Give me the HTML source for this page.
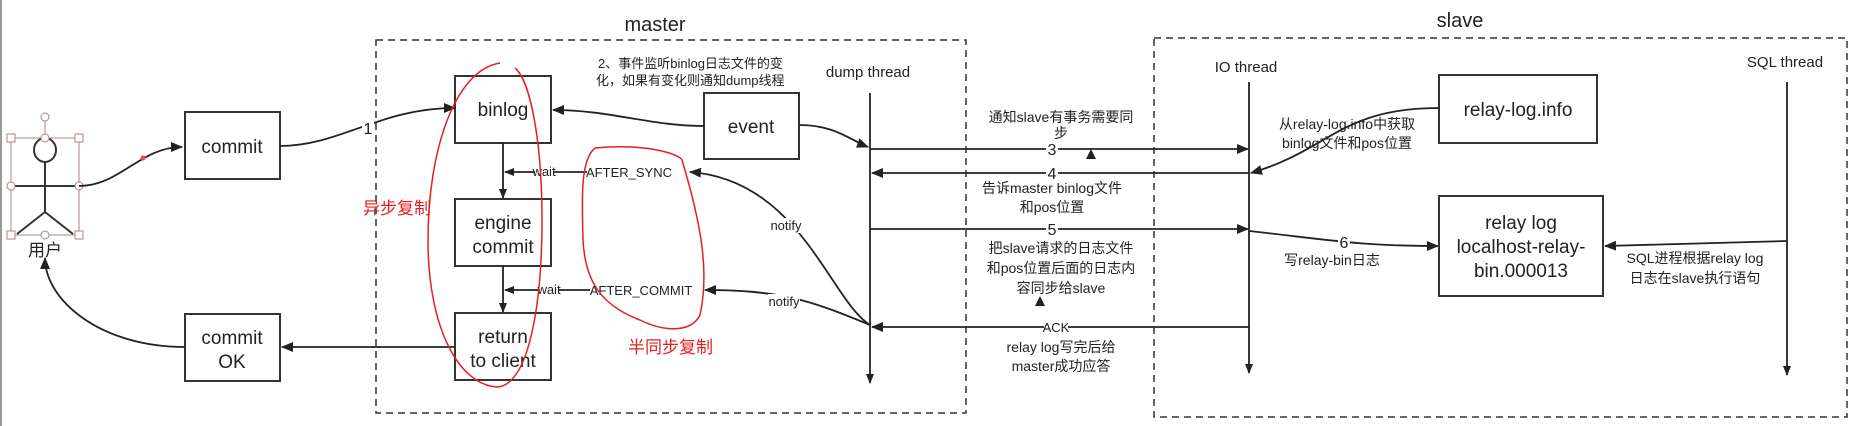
<!DOCTYPE html>
<html><head><meta charset="utf-8"><style>
html,body{margin:0;padding:0;background:#fff;}
svg{display:block;}
text{font-family:"Liberation Sans","Noto Sans CJK SC",sans-serif;fill:#222;}
</style></head><body>
<svg width="1866" height="426" viewBox="0 0 1866 426" xmlns="http://www.w3.org/2000/svg">
<defs>
<marker id="a" markerWidth="10" markerHeight="8" refX="9" refY="4" orient="auto" markerUnits="userSpaceOnUse"><path d="M0,0 L10,4 L0,8 z" fill="#222"/></marker>
<marker id="b" markerWidth="12" markerHeight="10" refX="11" refY="5" orient="auto" markerUnits="userSpaceOnUse"><path d="M0,0 L12,5 L0,10 z" fill="#222"/></marker>
</defs>
<rect x="0" y="0" width="2" height="426" fill="#999"/>
<rect x="376" y="40" width="590" height="373" fill="none" stroke="#333" stroke-width="1.5" stroke-dasharray="7,5"/>
<rect x="1154" y="38" width="693" height="379" fill="none" stroke="#333" stroke-width="1.5" stroke-dasharray="7,5"/>
<text x="655" y="31" font-size="20" text-anchor="middle">master</text>
<text x="1460" y="27" font-size="20" text-anchor="middle">slave</text>
<g stroke="#b08080" stroke-width="1" fill="#fff">
<rect x="11" y="138" width="68" height="97" fill="none"/>
<line x1="45" y1="117" x2="45" y2="138"/>
</g>
<g stroke="#333" stroke-width="2" fill="none">
<ellipse cx="45" cy="150" rx="11" ry="12"/>
<line x1="45" y1="162" x2="45" y2="212"/>
<line x1="11" y1="186" x2="79" y2="186"/>
<line x1="45" y1="212" x2="17" y2="234"/>
<line x1="45" y1="212" x2="73" y2="234"/>
</g>
<g stroke="#b08080" stroke-width="1" fill="#fff">
<circle cx="45" cy="117" r="4"/><circle cx="45" cy="138" r="4"/><circle cx="11" cy="186" r="4"/><circle cx="79" cy="186" r="4"/><circle cx="45" cy="235" r="4"/>
<rect x="7" y="134" width="8" height="8"/><rect x="75" y="134" width="8" height="8"/><rect x="7" y="231" width="8" height="8"/><rect x="75" y="231" width="8" height="8"/>
</g>
<text x="45" y="256" font-size="17" text-anchor="middle">用户</text>
<g fill="#fff" stroke="#333" stroke-width="2">
<rect x="185" y="112" width="95" height="67"/>
<rect x="185" y="314" width="95" height="67"/>
<rect x="455" y="76" width="96" height="67"/>
<rect x="455" y="199" width="96" height="67"/>
<rect x="455" y="313" width="96" height="67"/>
<rect x="704" y="93" width="95" height="66"/>
<rect x="1439" y="75" width="158" height="68"/>
<rect x="1439" y="196" width="164" height="100"/>
</g>
<g font-size="19" text-anchor="middle">
<text x="232" y="153">commit</text>
<text x="232" y="344">commit</text><text x="232" y="368">OK</text>
<text x="503" y="116">binlog</text>
<text x="503" y="229">engine</text><text x="503" y="253">commit</text>
<text x="503" y="343">return</text><text x="503" y="367">to client</text>
<text x="751" y="133">event</text>
<text x="1518" y="116">relay-log.info</text>
<text x="1521" y="229">relay log</text><text x="1521" y="253">localhost-relay-</text><text x="1521" y="277">bin.000013</text>
</g>
<text x="868" y="77" font-size="15" text-anchor="middle">dump thread</text>
<text x="1246" y="72" font-size="15" text-anchor="middle">IO thread</text>
<text x="1785" y="67" font-size="15" text-anchor="middle">SQL thread</text>
<text x="598" y="68" font-size="13">2、事件监听binlog日志文件的变</text>
<text x="596" y="85" font-size="13">化，如果有变化则通知dump线程</text>
<g stroke="#222" stroke-width="1.8" fill="none">
<line x1="870" y1="93" x2="870" y2="383" marker-end="url(#a)"/>
<line x1="1249" y1="82" x2="1249" y2="373" marker-end="url(#a)"/>
<line x1="1787" y1="82" x2="1787" y2="375" marker-end="url(#a)"/>
<path d="M79,186 C120,186 140,147 182,147" marker-end="url(#b)"/>
<path d="M280,146 C340,146 380,108 455,108" marker-end="url(#b)"/>
<path d="M704,126 C650,126 610,110 553,110" marker-end="url(#b)"/>
<path d="M799,125 C835,125 850,140 868,147" marker-end="url(#b)"/>
<line x1="503" y1="143" x2="503" y2="198" marker-end="url(#a)"/>
<line x1="503" y1="266" x2="503" y2="312" marker-end="url(#a)"/>
<line x1="587" y1="172" x2="505" y2="172" marker-end="url(#a)"/>
<line x1="590" y1="290" x2="505" y2="290" marker-end="url(#a)"/>
<path d="M870,325 C830,300 800,180 690,172" marker-end="url(#b)"/>
<path d="M870,325 C810,300 780,290 705,290" marker-end="url(#b)"/>
<line x1="455" y1="347" x2="282" y2="347" marker-end="url(#b)"/>
<path d="M185,347 C100,347 45,300 45,258" marker-end="url(#b)"/>
<line x1="870" y1="149" x2="1248" y2="149" marker-end="url(#b)"/>
<line x1="1249" y1="173" x2="872" y2="173" marker-end="url(#b)"/>
<line x1="870" y1="229" x2="1248" y2="229" marker-end="url(#b)"/>
<line x1="1249" y1="327" x2="872" y2="327" marker-end="url(#b)"/>
<path d="M1439,108 C1340,108 1330,150 1251,173" marker-end="url(#b)"/>
<path d="M1249,231 C1330,240 1360,246 1438,246" marker-end="url(#b)"/>
<line x1="1787" y1="241" x2="1605" y2="246" marker-end="url(#b)"/>
</g>
<circle cx="143" cy="158" r="2.5" fill="#e05050"/>
<path d="M1086,159 L1091,149 L1096,159 z" fill="#222"/>
<path d="M1035,306 L1040,296 L1045,306 z" fill="#222"/>
<g font-size="13" text-anchor="middle">
<rect x="535" y="164" width="18" height="14" fill="#fff"/><text x="544" y="176" fill="#444">wait</text>
<rect x="540" y="282" width="18" height="14" fill="#fff"/><text x="549" y="294" fill="#444">wait</text>
<text x="629" y="177" fill="#444">AFTER_SYNC</text>
<text x="641" y="295" fill="#444">AFTER_COMMIT</text>
<rect x="770" y="218" width="32" height="15" fill="#fff"/><text x="786" y="230" fill="#444">notify</text>
<rect x="768" y="294" width="32" height="15" fill="#fff"/><text x="784" y="306" fill="#444">notify</text>
<rect x="1044" y="320" width="24" height="14" fill="#fff"/><text x="1056" y="332" fill="#444">ACK</text>
</g>
<g font-size="16" text-anchor="middle">
<rect x="362" y="120" width="12" height="18" fill="#fff"/><text x="368" y="134">1</text>
<rect x="1046" y="141" width="12" height="17" fill="#fff"/><text x="1052" y="155">3</text>
<rect x="1046" y="165" width="12" height="17" fill="#fff"/><text x="1052" y="179">4</text>
<rect x="1046" y="221" width="12" height="17" fill="#fff"/><text x="1052" y="235">5</text>
<rect x="1338" y="234" width="12" height="17" fill="#fff"/><text x="1344" y="248">6</text>
</g>
<g font-size="14" text-anchor="middle">
<text x="1061" y="122">通知slave有事务需要同</text>
<text x="1061" y="138">步</text>
<text x="1052" y="193">告诉master binlog文件</text>
<text x="1052" y="212">和pos位置</text>
<text x="1061" y="253">把slave请求的日志文件</text>
<text x="1061" y="273">和pos位置后面的日志内</text>
<text x="1061" y="293">容同步给slave</text>
<text x="1061" y="352">relay log写完后给</text>
<text x="1061" y="371">master成功应答</text>
<text x="1347" y="129">从relay-log.info中获取</text>
<text x="1347" y="148">binlog文件和pos位置</text>
<text x="1332" y="265">写relay-bin日志</text>
<text x="1695" y="263">SQL进程根据relay log</text>
<text x="1695" y="283">日志在slave执行语句</text>
</g>
<g stroke="#e32020" stroke-width="1.5" fill="none">
<path d="M500,63 C455,70 428,150 428,240 C428,330 460,385 497,387 C530,385 542,300 542,220 C542,140 530,80 515,68"/>
<path d="M595,148 C650,143 680,155 682,160 C700,220 710,270 700,315 C690,335 660,330 640,320 C600,305 585,280 583,240 C582,200 580,160 595,148"/>
</g>
<text x="363" y="214" font-size="17" style="fill:#e32020">异步复制</text>
<text x="628" y="353" font-size="17" style="fill:#e32020">半同步复制</text>
</svg>
</body></html>
